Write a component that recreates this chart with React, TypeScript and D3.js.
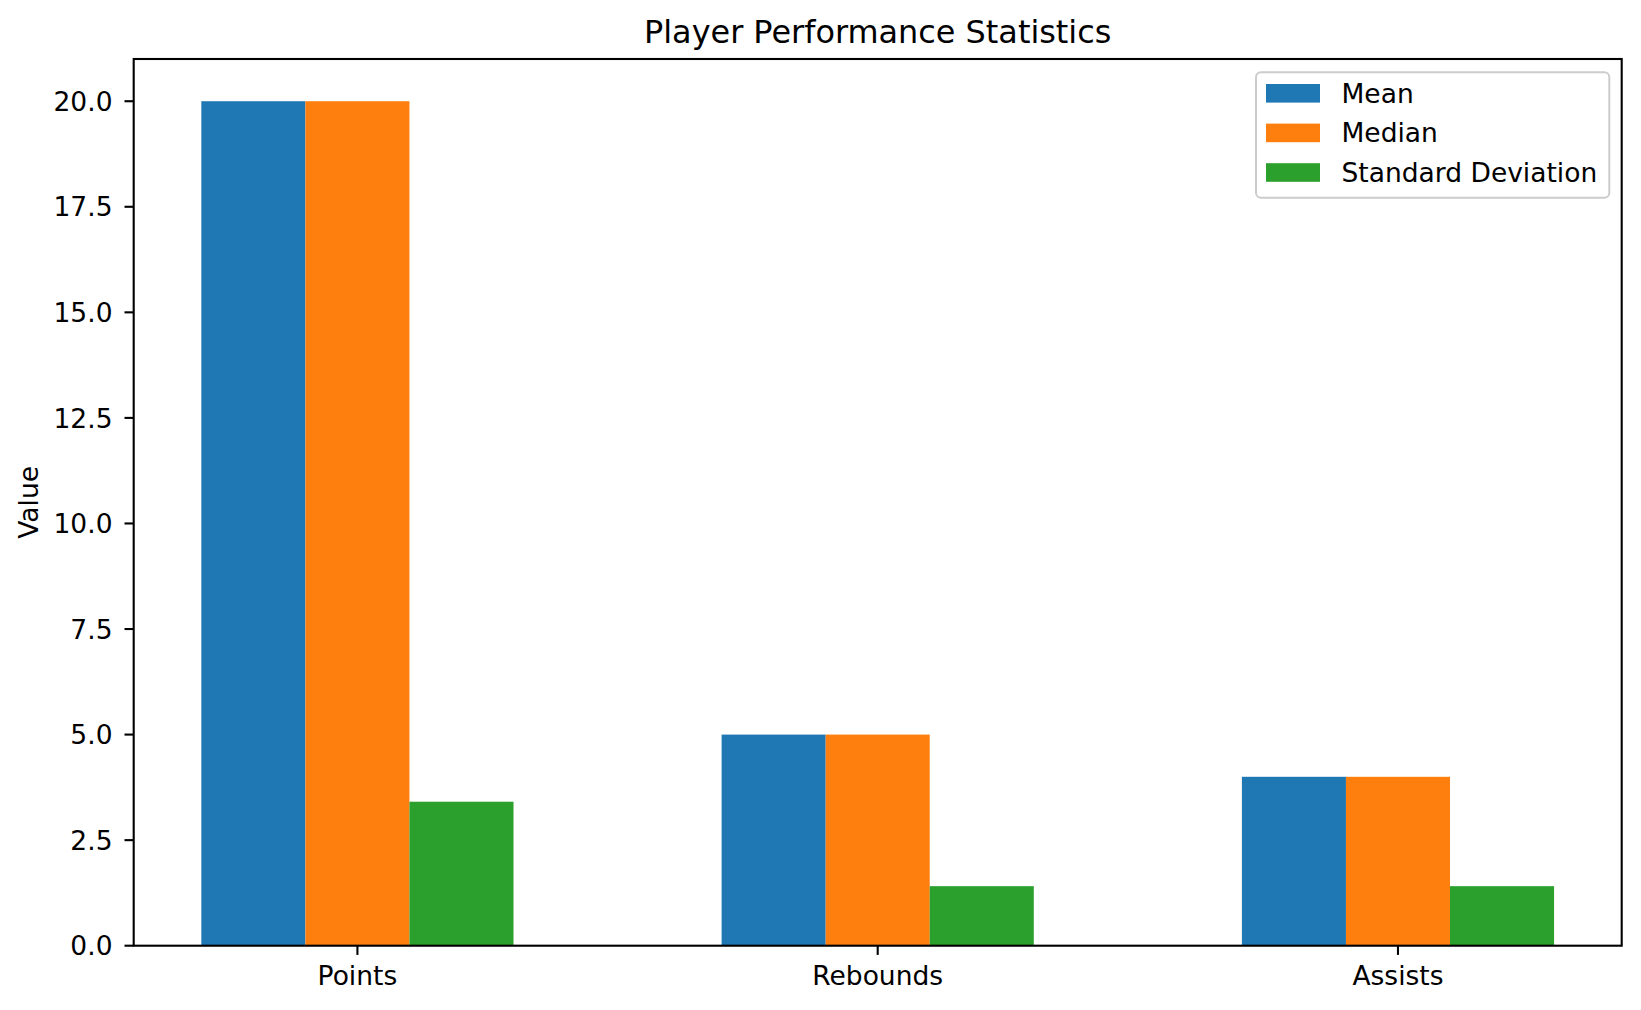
import React from "react";
import * as d3 from "d3";

const categories = ["Points", "Rebounds", "Assists"];
const seriesNames = ["Mean", "Median", "Standard Deviation"];
const meanValues = [20, 5, 4];
const medianValues = [20, 5, 4];
const stdValues = [3.41, 1.41, 1.41];
const yTicks = [0, 2.5, 5, 7.5, 10, 12.5, 15, 17.5, 20];
const colors = ["#1f77b4", "#ff7f0e", "#2ca02c"];

const W = 1641;
const H = 1010;
const left = 133.7, right = 1621.7, top = 59, bottom = 945.7;
const FONT = "DejaVu Sans, sans-serif";
const FS = 26.5;

export default function App() {
  const series = [meanValues, medianValues, stdValues];
  const barW = 0.2;
  const x = d3.scaleLinear().domain([-0.43, 2.43]).range([left, right]);
  const y = d3.scaleLinear().domain([0, 21]).range([bottom, top]);
  const tickLen = 9.2;

  return (
    <svg width={W} height={H} style={{ position: "absolute", left: 0, top: 0, background: "#fff" }} fontFamily={FONT}>
      <rect x={0} y={0} width={W} height={H} fill="#fff" />
      {series.map((vals, si) =>
        vals.map((v, ci) => {
          const x0 = x(ci + (si - 1) * barW - barW / 2);
          const x1 = x(ci + (si - 1) * barW + barW / 2);
          return (
            <rect key={`${si}-${ci}`} x={x0} y={y(v)} width={x1 - x0} height={y(0) - y(v)} fill={colors[si]} />
          );
        })
      )}
      <rect x={left} y={top} width={right - left} height={bottom - top} fill="none" stroke="#000" strokeWidth={2.1} />
      {yTicks.map((t) => (
        <g key={t}>
          <line x1={left - tickLen} x2={left} y1={y(t)} y2={y(t)} stroke="#000" strokeWidth={2.1} />
          <text x={112.5} y={y(t) + 9.6} textAnchor="end" fontSize={FS} fill="#000">
            {t.toFixed(1)}
          </text>
        </g>
      ))}
      {categories.map((c, i) => (
        <g key={c}>
          <line x1={x(i)} x2={x(i)} y1={bottom} y2={bottom + tickLen} stroke="#000" strokeWidth={2.1} />
          <text x={x(i)} y={985} textAnchor="middle" fontSize={FS} fill="#000">
            {c}
          </text>
        </g>
      ))}
      <text transform={`translate(38.3, ${(top + bottom) / 2}) rotate(-90)`} textAnchor="middle" fontSize={FS} fill="#000">
        Value
      </text>
      <text x={(left + right) / 2} y={43.3} textAnchor="middle" fontSize={31.9} fill="#000">
        Player Performance Statistics
      </text>
      <rect x={1256} y={72.3} width={353.3} height={125.4} rx={5} ry={5} fill="#fff" fillOpacity={0.8} stroke="#cccccc" strokeWidth={2} />
      {seriesNames.map((n, i) => {
        const cy = 93.3 + i * 39.6;
        return (
          <g key={n}>
            <rect x={1266} y={cy - 9.3} width={54} height={18.6} fill={colors[i]} />
            <text x={1341.5} y={cy + 9.5} fontSize={FS} fill="#000">
              {n}
            </text>
          </g>
        );
      })}
    </svg>
  );
}
